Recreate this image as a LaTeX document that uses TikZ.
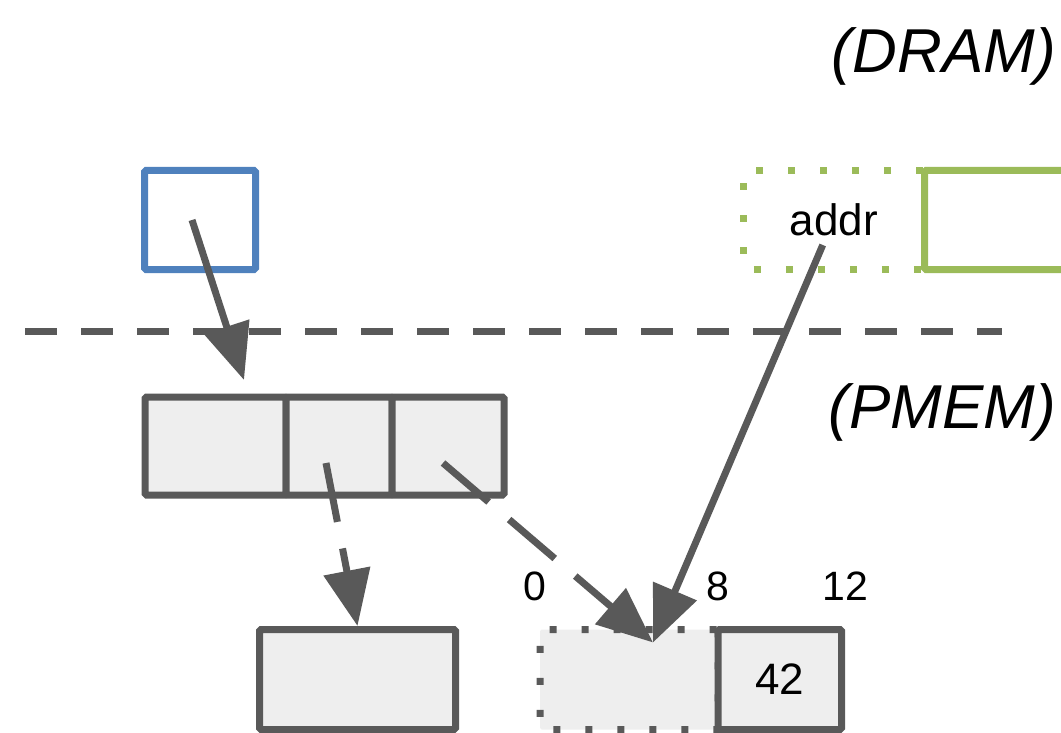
\documentclass[tikz,border=0pt]{standalone}
\usepackage{fontspec}
\setmainfont{Liberation Sans}
\usetikzlibrary{arrows.meta,positioning}
\definecolor{pmedge}{RGB}{89,89,89}
\definecolor{pmfill}{RGB}{238,238,238}
\definecolor{dblue}{RGB}{79,129,189}
\definecolor{dgreen}{RGB}{155,187,89}
\tikzset{
  vol/.style={
    line width=7pt, rounded corners=1.5pt, inner sep=0pt, outer sep=0pt,
    minimum height=99pt, font=\fontsize{44}{52}\selectfont
  },
  cell/.style={vol, draw=pmedge, fill=pmfill, minimum height=100pt},
  dots/.style={dash pattern=on 7pt off 25pt},
  ptr/.style={-{Triangle[length=56pt,width=46pt]}, draw=pmedge, line width=7pt},
  dptr/.style={ptr, dash pattern=on 60pt off 27pt},
  sep/.style={draw=pmedge, line width=7pt, dash pattern=on 32pt off 24pt},
  region/.style={font=\fontsize{62}{74}\selectfont\itshape, inner sep=0pt},
  lbl/.style={font=\fontsize{41}{48}\selectfont, inner sep=0pt}
}

\begin{document}
\begin{tikzpicture}[x=1pt,y=-1pt]
  \useasboundingbox (0,0) rectangle (1061,733);

  % volatile side
  \node[region, anchor=base east] (dram) at (1056,73) {(DRAM)};
  \node[vol, draw=dblue, minimum width=111pt] (var) at (200,220) {};
  \node[vol, draw=dgreen, dots, minimum width=181.5pt] (addr) at (833.75,220) {addr};
  \node[vol, draw=dgreen, minimum width=200pt, anchor=west] (obj) at (924.5,220) {};

  \draw[sep] (25,331) -- (1002,331);

  % persistent side
  \node[region, anchor=base east] (pmem) at (1056,428) {(PMEM)};
  \node[cell, minimum width=141pt, minimum height=98pt] (c1) at (215.5,446) {};
  \node[cell, minimum width=106pt, minimum height=98pt, right=0pt of c1] (c2) {};
  \node[cell, minimum width=112pt, minimum height=98pt, right=0pt of c2] (c3) {};

  \node[cell, minimum width=196pt] (tgt) at (357.5,679.5) {};
  \node[cell, dots, minimum width=178pt] (slot) at (629,679.5) {};
  \node[cell, minimum width=123.5pt] (val) at (779.75,679.5) {42};

  \node[lbl, anchor=base] (off0) at (535,600) {0};
  \node[lbl, anchor=base] (off8) at (718,600) {8};
  \node[lbl, anchor=base] (off12) at (845,600) {12};

  \coordinate (hit) at ([xshift=24pt,yshift=37pt]slot.center);
  \draw[ptr] ([xshift=-8pt]var.center) -- ([xshift=99pt,yshift=17pt]c1.north west);
  \draw[dptr] ([xshift=-13pt,yshift=-17pt]c2.center) -- ([yshift=3.5pt]tgt.north);
  \draw[dptr] ([xshift=-5pt,yshift=-17pt]c3.center) -- (hit);
  \draw[ptr] ([xshift=-11pt,yshift=-25pt]addr.center) -- (hit);
\end{tikzpicture}
\end{document}
